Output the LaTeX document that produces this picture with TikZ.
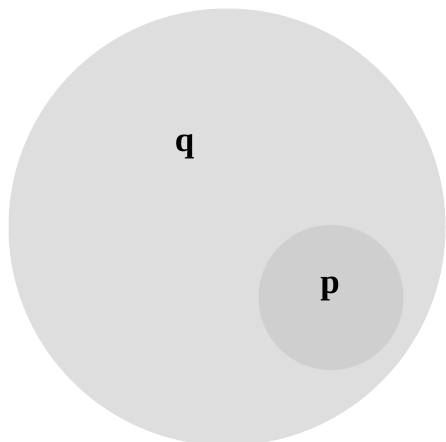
\documentclass[tikz,border=0pt]{standalone}
\usepackage{fontspec}
\setmainfont{Liberation Serif}
\usepackage{tikz}
\definecolor{outergray}{HTML}{DEDEDE}
\definecolor{innergray}{HTML}{CFCFCF}
\tikzset{setlabel/.style={anchor=base, font=\fontsize{35}{40}\selectfont\bfseries, inner sep=0pt}}
\begin{document}
\begin{tikzpicture}[x=1pt,y=1pt]
    \useasboundingbox (0,0) rectangle (446,441);
    % Outer set
    \fill[outergray] (227,214) circle (218.5);
    \node[setlabel] (q) at (184.5,289) {q};
    % Inner set
    \fill[innergray] (331,143.5) circle (72.5);
    \node[setlabel] (p) at (330,147) {p};
\end{tikzpicture}
\end{document}
